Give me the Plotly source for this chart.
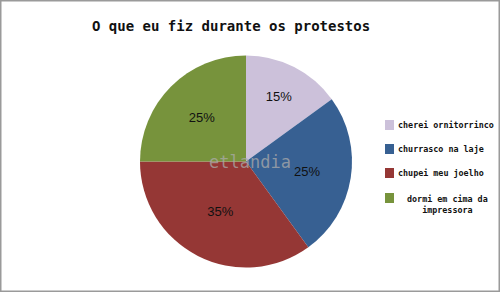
import plotly.graph_objects as go

labels = ["cherei ornitorrinco", "churrasco na laje", "chupei meu joelho", "dormi em cima da impressora"]
legend_text = ["cherei ornitorrinco", "churrasco na laje", "chupei meu joelho", "dormi em cima da<br>impressora"]
values = [15, 25, 35, 25]
colors = ["#CCC1DA", "#376092", "#953735", "#77933C"]
title = "O que eu fiz durante os protestos"

W, H = 500, 292

fig = go.Figure(go.Pie(
    labels=labels, values=values, sort=False, direction="clockwise", rotation=0,
    marker=dict(colors=colors, line=dict(width=0)),
    textinfo="percent", textposition="inside", insidetextorientation="horizontal",
    textfont=dict(family="Liberation Sans", size=13, color="#111111"),
    domain=dict(x=[140 / W, 352 / W], y=[1 - 268 / H, 1 - 55 / H]),
    showlegend=False, hoverinfo="label+percent",
))

shapes = [dict(type="rect", xref="paper", yref="paper", x0=0, x1=1, y0=0, y1=1,
               line=dict(color="#9a9a9a", width=3), fillcolor="rgba(0,0,0,0)")]
annotations = [
    dict(text=title, x=231 / W, y=1 - 26 / H, xref="paper", yref="paper", showarrow=False,
         font=dict(family="DejaVu Sans Mono", size=14, color="#111111", weight="bold"),
         xanchor="center", yanchor="middle"),
    dict(text="etlandia", x=250 / W, y=1 - 162 / H, xref="paper", yref="paper", showarrow=False,
         font=dict(family="DejaVu Sans Mono", size=17, color="rgba(170,170,170,0.75)"),
         xanchor="center", yanchor="middle"),
]
ys = [125, 149, 173, 198]
lfont = dict(family="DejaVu Sans Mono", size=8.4, color="#111111", weight="bold")
for i, (t, c) in enumerate(zip(legend_text, colors)):
    y = ys[i]
    shapes.append(dict(type="rect", xref="paper", yref="paper",
                       x0=385 / W, x1=394 / W, y0=1 - (y + 5) / H, y1=1 - (y - 5) / H,
                       fillcolor=c, line=dict(width=0)))
    if "<br>" in t:
        annotations.append(dict(text=t, x=447 / W, y=1 - (y - 6) / H, xref="paper", yref="paper",
                                showarrow=False, xanchor="center", yanchor="top", align="center",
                                font=lfont))
    else:
        annotations.append(dict(text=t, x=396 / W, y=1 - y / H, xref="paper", yref="paper",
                                showarrow=False, xanchor="left", yanchor="middle", font=lfont))

fig.update_layout(width=W, height=H, margin=dict(l=0, r=0, t=0, b=0),
                  paper_bgcolor="white", plot_bgcolor="white",
                  shapes=shapes, annotations=annotations)
fig.write_html("out.html")
